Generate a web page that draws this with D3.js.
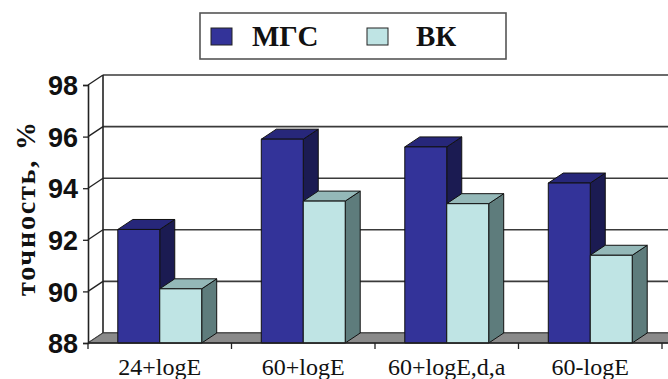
<!DOCTYPE html>
<html><head><meta charset="utf-8">
<script src="https://cdn.jsdelivr.net/npm/d3@7"></script>
<style>html,body{margin:0;padding:0;background:#fff;}svg{display:block;}</style>
</head><body>
<svg id="c" width="668" height="379"></svg>
<script>
const categories = ["24+logE", "60+logE", "60+logE,d,a", "60-logE"];
const seriesNames = ["МГС", "ВК"];
const mgsValues = [92.4, 95.9, 95.6, 94.2];
const vkValues = [90.1, 93.5, 93.4, 91.4];
const yTicks = [88, 90, 92, 94, 96, 98];
const yTitle = "точность, %";

const colors = {
  "МГС": {front: "#333399", top: "#27277a", side: "#1b1b52"},
  "ВК": {front: "#bfe4e4", top: "#94b8b8", side: "#5e7c7c"}
};
const DX = 15, DY = -10;
const svg = d3.select("#c");

const x0 = d3.scaleBand().domain(categories).range([88, 662]);
const x1 = d3.scaleBand().domain(seriesNames).range([0, x0.bandwidth()]).paddingOuter(0.71);
const y = d3.scaleLinear().domain([88, 98]).range([343, 85]);

// back wall gridlines
svg.append("g").selectAll("line").data(yTicks).join("line")
  .attr("x1", 88 + DX).attr("x2", 700)
  .attr("y1", d => y(d) + DY).attr("y2", d => y(d) + DY)
  .attr("stroke", "#3a3a3a").attr("stroke-width", 1.6);
// back wall left line
svg.append("line").attr("x1", 88 + DX).attr("x2", 88 + DX)
  .attr("y1", y(98) + DY).attr("y2", y(88) + DY)
  .attr("stroke", "#222").attr("stroke-width", 1.6);
// side wall connectors
svg.append("g").selectAll("line").data(yTicks).join("line")
  .attr("x1", 88).attr("x2", 88 + DX)
  .attr("y1", d => y(d)).attr("y2", d => y(d) + DY)
  .attr("stroke", "#222").attr("stroke-width", 1.3);

// floor
const fy = y(88);
svg.append("path")
  .attr("d", `M88,${fy} L${88 + DX},${fy + DY} L${700},${fy + DY} L${662 + 30},${fy} Z`)
  .attr("fill", "#8a8a8a").attr("stroke", "#444").attr("stroke-width", 1);

// front y axis
const yAxis = d3.axisLeft(y).tickValues(yTicks).tickSize(5).tickFormat(d3.format("d"));
const ya = svg.append("g").attr("transform", "translate(88,0)").call(yAxis);
ya.select(".domain").attr("stroke", "#222").attr("stroke-width", 1.6);
ya.selectAll(".tick line").attr("stroke", "#222").attr("stroke-width", 1.3);
ya.selectAll(".tick text").attr("font-family", "'Liberation Sans', Arial, sans-serif")
  .attr("font-weight", "bold").attr("font-size", 27).attr("fill", "#111").attr("x", -10).attr("dy", "0.36em");

// bars
const data = categories.map((c, i) => ({cat: c, vals: [
  {s: "МГС", v: mgsValues[i]}, {s: "ВК", v: vkValues[i]}]}));
const g = svg.append("g");
data.forEach(d => {
  d.vals.forEach(b => {
    const xl = x0(d.cat) + x1(b.s), xr = xl + x1.bandwidth();
    const yt = y(b.v), yb = y(88);
    const c = colors[b.s];
    const gg = g.append("g").attr("stroke", "#111").attr("stroke-width", 1).attr("stroke-linejoin", "round");
    gg.append("path").attr("fill", c.side)
      .attr("d", `M${xr},${yb} L${xr + DX},${yb + DY} L${xr + DX},${yt + DY} L${xr},${yt} Z`);
    gg.append("path").attr("fill", c.top)
      .attr("d", `M${xl},${yt} L${xl + DX},${yt + DY} L${xr + DX},${yt + DY} L${xr},${yt} Z`);
    gg.append("rect").attr("fill", c.front)
      .attr("x", xl).attr("y", yt).attr("width", xr - xl).attr("height", yb - yt);
  });
});

// x axis front line and ticks
const xa = svg.append("g");
xa.append("line").attr("x1", 88).attr("x2", 668).attr("y1", fy).attr("y2", fy)
  .attr("stroke", "#222").attr("stroke-width", 1.3);
const bounds = [0].concat(categories.map((c) => x0(c) + x0.bandwidth()));
xa.selectAll("line.t").data(bounds).join("line").attr("class", "t")
  .attr("x1", (d, i) => i === 0 ? 88 : d).attr("x2", (d, i) => i === 0 ? 88 : d)
  .attr("y1", fy).attr("y2", fy + 6).attr("stroke", "#222").attr("stroke-width", 1.3);
xa.selectAll("text").data(categories).join("text")
  .attr("x", d => x0(d) + x0.bandwidth() / 2).attr("y", 375)
  .attr("text-anchor", "middle")
  .attr("font-family", "'Liberation Serif', 'Times New Roman', serif")
  .attr("font-size", 24).attr("fill", "#111").text(d => d);

// y title
svg.append("text").attr("transform", "translate(35,209) rotate(-90)")
  .attr("text-anchor", "middle")
  .attr("font-family", "'Liberation Serif', 'Times New Roman', serif")
  .attr("font-weight", "bold").attr("font-size", 28).attr("fill", "#111")
  .attr("textLength", 174).attr("lengthAdjust", "spacing").text(yTitle);

// legend
const lg = svg.append("g");
lg.append("rect").attr("x", 200).attr("y", 13).attr("width", 306).attr("height", 46)
  .attr("fill", "#fff").attr("stroke", "#555").attr("stroke-width", 1.6);
const legX = [211, 367], legTX = [252, 416];
seriesNames.forEach((s, i) => {
  lg.append("rect").attr("x", legX[i]).attr("y", 28).attr("width", 21).attr("height", 17)
    .attr("fill", colors[s].front).attr("stroke", "#222").attr("stroke-width", 1);
  lg.append("text").attr("x", legTX[i]).attr("y", 46)
    .attr("font-family", "'Liberation Serif', 'Times New Roman', serif")
    .attr("font-weight", "bold").attr("font-size", 29).attr("fill", "#111").text(s);
});
</script>
</body></html>
